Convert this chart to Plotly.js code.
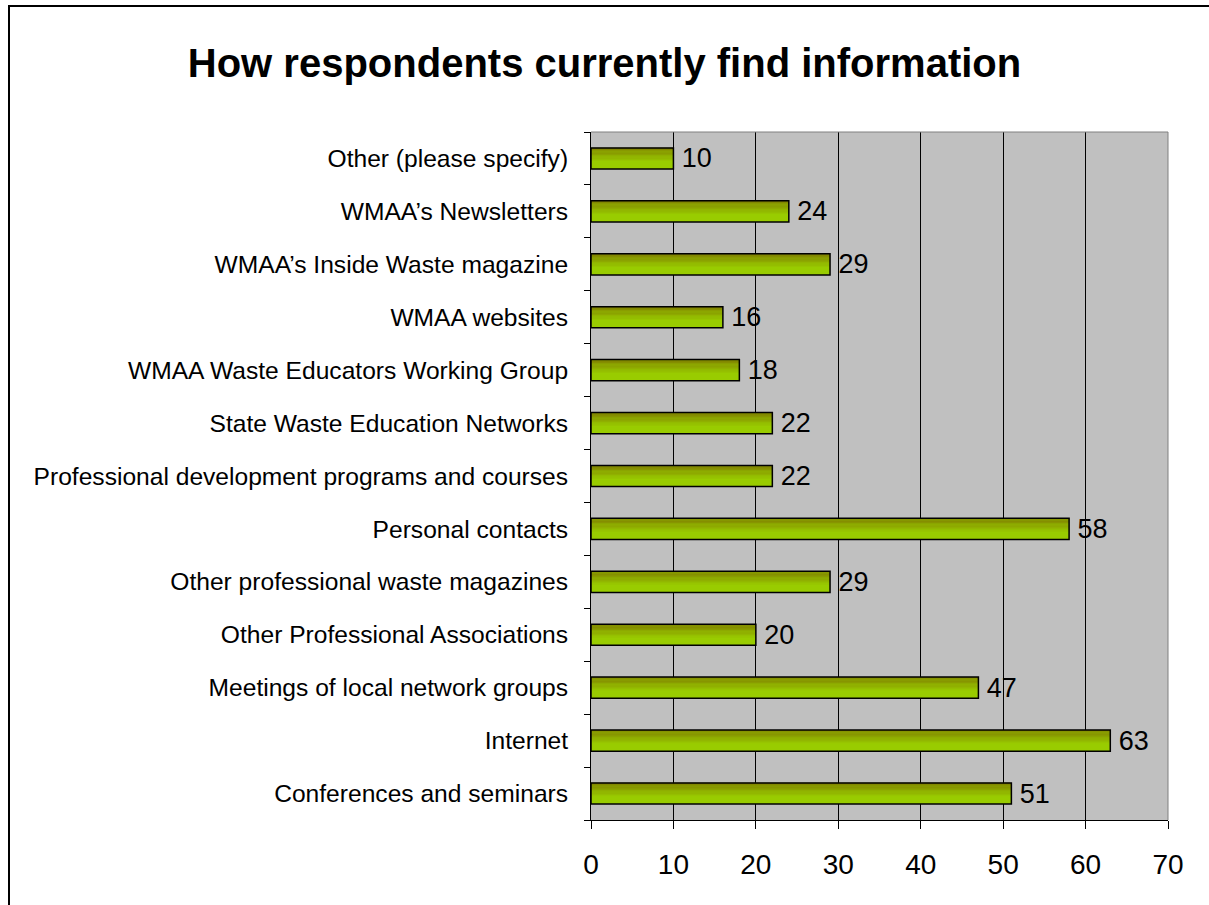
<!DOCTYPE html>
<html>
<head>
<meta charset="utf-8">
<script src="https://cdn.plot.ly/plotly-3.0.1.min.js"></script>
<style>
html,body{margin:0;padding:0;background:#fff;overflow:hidden;}
#frame{position:absolute;left:8px;top:5px;width:1400px;height:1100px;border:2px solid #000;box-sizing:border-box;}
#chart{position:absolute;left:0;top:0;width:1209px;height:905px;}
</style>
</head>
<body>
<div id="frame"></div>
<div id="chart"></div>
<script>
const categories = [
  "Conferences and seminars",
  "Internet",
  "Meetings of local network groups",
  "Other Professional Associations",
  "Other professional waste magazines",
  "Personal contacts",
  "Professional development programs and courses",
  "State Waste Education Networks",
  "WMAA Waste Educators Working Group",
  "WMAA websites",
  "WMAA\u2019s Inside Waste magazine",
  "WMAA\u2019s Newsletters",
  "Other (please specify)"
];
const values = [51, 63, 47, 20, 29, 58, 22, 22, 18, 16, 29, 24, 10];
const xTicks = [0, 10, 20, 30, 40, 50, 60, 70];
const titleText = "How respondents currently find information";

const barW = 0.4, half = barW / 2;
const traces = [];
// base bar (bright green)
traces.push({type:'bar', orientation:'h', x:values, y:categories, width:barW, offset:-half,
  marker:{color:'#99cc00', line:{width:0}}, hoverinfo:'skip', showlegend:false});
// gradient bands toward the top (darker olive)
const nBands = 12, gradFrac = 0.7;
const c0 = [0x80,0x80,0x00], c1 = [0x99,0xcc,0x00];
for (let i = 0; i < nBands; i++) {
  const t = i / (nBands - 1);
  const col = 'rgb(' + c0.map((v,k)=>Math.round(v + (c1[k]-v)*t)).join(',') + ')';
  const bh = barW * gradFrac / nBands;
  traces.push({type:'bar', orientation:'h', x:values, y:categories, width:bh + 0.002,
    offset: half - (i+1)*bh, marker:{color:col, line:{width:0}}, hoverinfo:'skip', showlegend:false});
}
// outline + labels
traces.push({type:'bar', orientation:'h', x:values, y:categories, width:barW, offset:-half,
  marker:{color:'rgba(0,0,0,0)', line:{color:'#000', width:1.5}},
  text:values.map(String), texttemplate:'\u2009%{text}', textposition:'outside', cliponaxis:false, constraintext:'none',
  textfont:{family:'Liberation Sans, Arial, sans-serif', size:27, color:'#000'},
  hoverinfo:'skip', showlegend:false});

const layout = {
  width:1209, height:905,
  paper_bgcolor:'rgba(0,0,0,0)', plot_bgcolor:'#c0c0c0',
  margin:{l:591, r:41, t:132, b:85},
  barmode:'overlay',
  font:{family:'Liberation Sans, Arial, sans-serif', color:'#000'},
  title:{text:titleText, x:0.5, xanchor:'center', y:0.93, yanchor:'middle',
    font:{family:'Liberation Sans, Arial, sans-serif', size:40, color:'#000', weight:'bold'}},
  xaxis:{range:[0,70], tickvals:xTicks, ticktext:xTicks.map(String), showgrid:true, gridcolor:'#000', gridwidth:1,
    zeroline:false, showline:true, linecolor:'#000', linewidth:1, ticks:'outside', ticklen:8, tickcolor:'#000',
    tickfont:{size:28}, ticklabelstandoff:11, fixedrange:true},
  yaxis:{type:'category', categoryorder:'array', categoryarray:categories, showgrid:false, zeroline:false,
    showline:true, linecolor:'#000', linewidth:1, ticks:'outside', ticklen:6, tickcolor:'#000', tickson:'boundaries',
    tickfont:{size:24.6}, ticklabelstandoff:17, fixedrange:true},
  shapes:[
    {type:'line', xref:'paper', yref:'paper', x0:0, x1:1, y0:1, y1:1, line:{color:'#808080', width:1}},
    {type:'line', xref:'paper', yref:'paper', x0:1, x1:1, y0:0, y1:1, line:{color:'#808080', width:1}}
  ]
};
Plotly.newPlot('chart', traces, layout, {staticPlot:true, displayModeBar:false});
</script>
</body>
</html>
